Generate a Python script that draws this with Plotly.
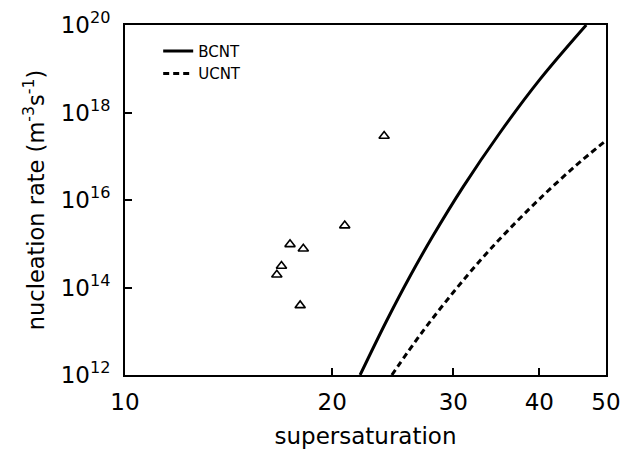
import plotly.graph_objects as go

# BCNT (solid) curve: supersaturation vs nucleation rate (m^-3 s^-1)
bcnt_s = [21.96, 24.0, 26.0, 28.0, 31.0, 35.0, 40.0, 46.8]
bcnt_j = [1e12, 10**13.24, 10**14.28, 10**15.17, 10**16.30, 10**17.52, 10**18.74, 1e20]

# UCNT (dashed) curve
ucnt_s = [24.42, 27.0, 30.0, 33.0, 36.0, 40.0, 45.0, 50.0]
ucnt_j = [1e12, 10**12.97, 10**13.89, 10**14.66, 10**15.30, 10**16.02, 10**16.76, 10**17.36]

# Experimental points (open triangles)
exp_s = [23.8, 20.86, 17.37, 18.16, 16.88, 16.62, 17.97]
exp_j = [2.9e17, 2.6e15, 9.7e14, 7.7e14, 3.1e14, 1.96e14, 3.9e13]

x_ticks = [10, 20, 30, 40, 50]
x_ticktext = ["10", "20", "30", "40", "50"]
y_ticks = [1e12, 1e14, 1e16, 1e18, 1e20]
y_ticktext = ["10<sup>12</sup>", "10<sup>14</sup>", "10<sup>16</sup>", "10<sup>18</sup>", "10<sup>20</sup>"]

FONT = "DejaVu Sans, Liberation Sans, Arial, sans-serif"

fig = go.Figure()
fig.add_trace(go.Scatter(x=bcnt_s, y=bcnt_j, mode="lines", name="BCNT",
                         line=dict(color="black", width=3, shape="spline", smoothing=1.0),
                         legendgroup="a"))
fig.add_trace(go.Scatter(x=ucnt_s, y=ucnt_j, mode="lines", name="UCNT",
                         line=dict(color="black", width=3, dash="6px,4px", shape="spline", smoothing=1.0),
                         legendgroup="b"))
fig.add_trace(go.Scatter(x=exp_s, y=exp_j, mode="markers", name="exp", showlegend=False,
                         marker=dict(symbol="triangle-up-open", size=9, color="black",
                                     line=dict(width=1.6, color="black"))))

fig.update_layout(
    width=621, height=463,
    margin=dict(l=125, r=15, t=25, b=88),
    paper_bgcolor="white", plot_bgcolor="white",
    font=dict(family=FONT, color="black", size=22),
    showlegend=True,
    legend=dict(x=0.069, y=0.972, xanchor="left", yanchor="top",
                bgcolor="rgba(0,0,0,0)", font=dict(size=15, family=FONT),
                tracegroupgap=0),
    xaxis=dict(type="log", range=[1, 1.69897], tickvals=x_ticks, ticktext=x_ticktext,
               ticks="inside", ticklen=7, tickwidth=2, tickcolor="black",
               showline=True, linewidth=2, linecolor="black", mirror=True,
               showgrid=False, zeroline=False, ticklabelstandoff=5,
               tickfont=dict(size=23), automargin=False,
               title=dict(text="supersaturation", font=dict(size=23), standoff=14)),
    yaxis=dict(type="log", range=[12, 20], tickvals=y_ticks, ticktext=y_ticktext,
               ticks="inside", ticklen=7, tickwidth=2, tickcolor="black",
               showline=True, linewidth=2, linecolor="black", mirror=True,
               showgrid=False, zeroline=False, ticklabelstandoff=8,
               tickfont=dict(size=23), automargin=False,
               title=dict(text="nucleation rate (m<sup>-3</sup>s<sup>-1</sup>)",
                          font=dict(size=22.5), standoff=10)),
)

fig.write_html("out.html", config={"displayModeBar": False},
               post_script="document.body.style.margin='0px';document.body.style.overflow='hidden';")
